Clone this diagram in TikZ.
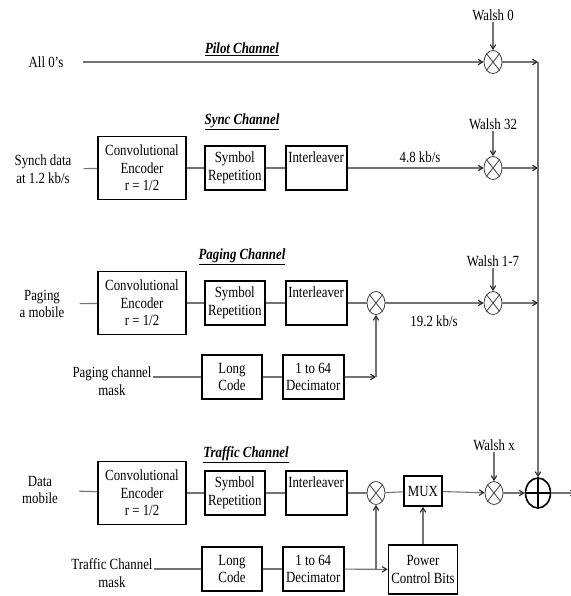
\documentclass[tikz,border=0pt]{standalone}
\usepackage{fontspec}
\setmainfont{Liberation Serif}[FakeStretch=0.83]
\usepackage{tikz}
\usetikzlibrary{arrows.meta, positioning, calc, shapes.geometric}
\newcommand{\dgfont}{\fontsize{15.5pt}{17.5pt}\selectfont}
\tikzset{
  blk/.style  ={draw, line width=1.8pt, minimum height=44pt, inner sep=0pt, align=center, font=\dgfont},
  enc/.style  ={blk, minimum width=88pt, minimum height=63pt},
  rep/.style  ={blk, minimum width=60pt},
  mixr/.style ={draw=black!75, ellipse, line width=0.8pt, minimum width=18pt, minimum height=23pt, inner sep=0pt},
  addr/.style ={draw, ellipse, line width=1.6pt, minimum width=25pt, minimum height=30pt, inner sep=0pt},
  txt/.style  ={font=\dgfont, align=center, inner sep=1pt},
  chn/.style  ={font=\dgfont\bfseries\itshape, inner sep=1pt},
  ln/.style   ={draw=black!55, line width=1.1pt},
  arr/.style  ={ln, -{Straight Barb[length=4.5pt, width=5.5pt, color=black!85]}},
}
\begin{document}
\begin{tikzpicture}[x=1pt, y=-1pt]
  \useasboundingbox (0,0) rectangle (570,596);
  \coordinate (bus) at (538,62);
  \coordinate (out) at (576,493);

  % pilot channel
  \node[txt] (in0) at (46,62) {All 0's};
  \node[chn] (pilot) at (242,49) {\underline{Pilot Channel}};
  \node[mixr] (wm0) at (493,62) {};
  \node[txt] (w0) at (493,15) {Walsh 0};
  \draw[arr] (in0) -- (wm0) [shorten <=18pt];
  \draw[arr] (w0) -- (wm0);
  \draw[arr] (wm0) -- (wm0 -| bus);

  % sync channel
  \node[chn] (sync) at (242,122) {\underline{Sync Channel}};
  \node[txt] (in1) at (43,169) {Synch data\\at 1.2 kb/s};
  \node[enc] (enc1) at (142,168) {Convolutional\\Encoder\\r = 1/2};
  \node[rep, right=17pt of enc1] (rep1) {Symbol\\Repetition};
  \node[rep, right=19pt of rep1, minimum width=61pt] (il1) {Interleaver\\\strut};
  \node[mixr] (wm1) at (493,168) {};
  \node[txt] (w1) at (493,124) {Walsh 32};
  \node[txt] (r1) at (420,157) {4.8 kb/s};
  \draw[ln] (in1) -- (enc1) [shorten <=11pt];
  \draw[ln] (enc1) -- (rep1);
  \draw[ln] (rep1) -- (il1);
  \draw[arr] (il1) -- (wm1);
  \draw[arr] (w1) -- (wm1);
  \draw[arr] (wm1) -- (wm1 -| bus);

  % paging channel
  \node[chn] (paging) at (242,257) {\underline{Paging Channel}};
  \node[txt] (in2) at (42,304) {Paging\\a mobile};
  \node[enc] (enc2) at (142,303) {Convolutional\\Encoder\\r = 1/2};
  \node[rep, right=17pt of enc2] (rep2) {Symbol\\Repetition};
  \node[rep, right=19pt of rep2, minimum width=61pt] (il2) {Interleaver\\\strut};
  \node[mixr] (mx2) at (376,303) {};
  \node[mixr] (wm2) at (493,303) {};
  \node[txt] (w2) at (493,261) {Walsh 1-7};
  \node[txt] (r2) at (434,321) {19.2 kb/s};
  \node[txt] (pm) at (112,381) {Paging channel\\mask};
  \node[rep] (lc2) at (232,377) {Long\\Code};
  \node[rep, right=19pt of lc2, minimum width=61pt] (dc2) {1 to 64\\Decimator};
  \coordinate (j2) at (mx2 |- dc2);
  \draw[ln] (in2) -- (enc2) [shorten <=14pt];
  \draw[ln] (enc2) -- (rep2);
  \draw[ln] (rep2) -- (il2);
  \draw[ln] (il2) -- (mx2);
  \draw[arr] (mx2) -- (wm2);
  \draw[arr] (w2) -- (wm2);
  \draw[arr] (wm2) -- (wm2 -| bus);
  \draw[ln] (pm.east |- lc2) -- (lc2);
  \draw[ln] (lc2) -- (dc2);
  \draw[arr] (dc2) -- (j2);
  \draw[arr] (j2) -- (mx2);

  % traffic channel
  \node[chn] (traffic) at (246,455) {\underline{Traffic Channel}};
  \node[txt] (in3) at (40,490) {Data\\mobile};
  \node[enc] (enc3) at (142,493) {Convolutional\\Encoder\\r = 1/2};
  \node[rep, right=17pt of enc3] (rep3) {Symbol\\Repetition};
  \node[rep, right=19pt of rep3, minimum width=61pt] (il3) {Interleaver\\\strut};
  \node[mixr] (mx3) at (376,493) {};
  \node[blk, minimum width=38pt, minimum height=30pt] (mux) at (423,491) {MUX};
  \node[mixr] (wm3) at (494,493) {};
  \node[txt] (w3) at (494,445) {Walsh x};
  \node[addr] (add) at (538,493) {};
  \node[txt] (tm) at (112,573) {Traffic Channel\\mask};
  \node[rep] (lc3) at (232,569) {Long\\Code};
  \node[rep, right=19pt of lc3, minimum width=61pt] (dc3) {1 to 64\\Decimator};
  \node[blk, minimum width=69pt, minimum height=49pt] (pcb) at (423,569.5) {Power\\Control Bits};
  \coordinate (j3) at (mx3 |- dc3);
  \draw[ln] (in3) -- (enc3) [shorten <=20pt];
  \draw[ln] (enc3) -- (rep3);
  \draw[ln] (rep3) -- (il3);
  \draw[ln] (il3) -- (mx3);
  \draw[ln] (mx3) -- (mux);
  \draw[arr] (mux) -- (wm3);
  \draw[arr] (w3) -- (wm3);
  \draw[arr] (wm3) -- (add);
  \draw[arr] (bus) -- (add);
  \draw[arr] (add) -- (out);
  \draw[ln] (tm.east |- lc3) -- (lc3);
  \draw[ln] (lc3) -- (dc3);
  \draw[arr] (dc3) -- (pcb);
  \draw[arr] (j3) -- (mx3);
  \draw[arr] (pcb) -- (mux);

  % mixer crosses and adder plus
  \foreach \m in {wm0, wm1, mx2, wm2, mx3, wm3}
    \draw[black!75, line width=0.8pt] (\m.north west) -- (\m.south east) (\m.north east) -- (\m.south west);
  \draw[line width=1.6pt] (add.north) -- (add.south) (add.west) -- (add.east);
\end{tikzpicture}
\end{document}
